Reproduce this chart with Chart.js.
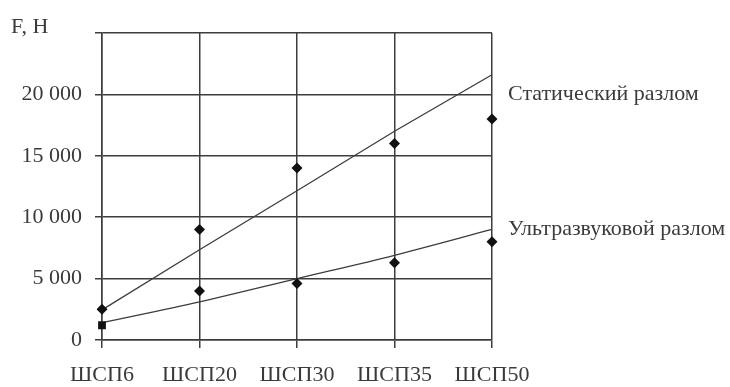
<!DOCTYPE html>
<html>
<head>
<meta charset="utf-8">
<script src="https://cdn.jsdelivr.net/npm/chart.js@4/dist/chart.umd.min.js"></script>
<style>
  html, body { margin: 0; padding: 0; background: #fff; }
  #wrap { width: 730px; height: 387px; }
</style>
</head>
<body>
<div id="wrap"><canvas id="c" width="730" height="387"></canvas></div>
<script>
// Grades of the tested material
const grades = ['ШСП6', 'ШСП20', 'ШСП30', 'ШСП35', 'ШСП50'];

// Measured breaking force, N
const staticForce = [2500, 9000, 14000, 16000, 18000];
const ultrasonicForce = [1200, 4000, 4600, 6300, 8000];

// Trend lines for both series
const staticTrend = [2450, 7350, 12150, 17000, 21600];
const ultrasonicTrend = [1400, 3100, 5000, 6900, 9000];

// Marker shapes of the ultrasonic series
const ultrasonicMarkers = ['rect', 'rectRot', 'rectRot', 'rectRot', 'rectRot'];

// Series names and where their labels sit on the value axis
const seriesNames = ['Статический разлом', 'Ультразвуковой разлом'];
const seriesLabelAt = [20000, 9000];

const yTicks = [0, 5000, 10000, 15000, 20000, 25000];
const axisTitle = 'F, H';

const FONT = '"Liberation Serif", "Times New Roman", serif';
const TEXT = '#3a3a3a';
const LINE = '#3d3d3d';

const seriesLabels = {
  id: 'seriesLabels',
  afterDatasetsDraw(chart) {
    const { ctx, chartArea, scales } = chart;
    ctx.save();
    ctx.font = '22px ' + FONT;
    ctx.fillStyle = TEXT;
    ctx.textBaseline = 'middle';
    ctx.textAlign = 'left';
    seriesNames.forEach((name, i) => {
      ctx.fillText(name, chartArea.right + 16, scales.y.getPixelForValue(seriesLabelAt[i]));
    });
    // Unit label above the value axis
    ctx.textBaseline = 'alphabetic';
    ctx.fillText(axisTitle, 11, 33);
    ctx.restore();
  }
};

new Chart(document.getElementById('c'), {
  type: 'line',
  data: {
    labels: grades,
    datasets: [
      {
        data: staticTrend,
        borderColor: LINE, borderWidth: 1.3,
        pointRadius: 0, fill: false, order: 3
      },
      {
        data: ultrasonicTrend,
        borderColor: LINE, borderWidth: 1.3,
        pointRadius: 0, fill: false, cubicInterpolationMode: 'monotone', order: 3
      },
      {
        data: staticForce,
        showLine: false,
        pointStyle: 'rectRot', pointRadius: 5.5,
        pointBackgroundColor: '#111', pointBorderColor: '#111', pointBorderWidth: 0,
        order: 1
      },
      {
        data: ultrasonicForce,
        showLine: false,
        pointStyle: ultrasonicMarkers, pointRadius: 5.5,
        pointBackgroundColor: '#111', pointBorderColor: '#111', pointBorderWidth: 0,
        order: 1
      }
    ]
  },
  options: {
    responsive: false,
    animation: false,
    events: [],
    layout: { padding: { left: 0, top: 33, right: 238, bottom: 0 } },
    plugins: {
      legend: { display: false },
      tooltip: { enabled: false },
      title: { display: false }
    },
    scales: {
      x: {
        type: 'category',
        offset: false,
        grid: { color: LINE, lineWidth: 1.5, tickLength: 8, drawTicks: true, offset: false },
        border: { color: LINE, width: 1.5 },
        ticks: {
          color: TEXT, padding: 14, maxRotation: 0, autoSkip: false,
          font: { family: FONT, size: 22 }
        },
        afterFit(scale) { scale.height = 47; }
      },
      y: {
        type: 'linear',
        min: 0, max: 25000,
        afterBuildTicks(scale) { scale.ticks = yTicks.map(v => ({ value: v })); },
        grid: { color: LINE, lineWidth: 1.5, tickLength: 7 },
        border: { color: LINE, width: 1.5 },
        ticks: {
          color: TEXT, padding: 13,
          font: { family: FONT, size: 22 },
          callback(v) {
            if (v === 25000) return '';
            return v === 0 ? '0' : String(v).replace(/\B(?=(\d{3})+(?!\d))/g, ' ');
          }
        },
        afterFit(scale) { scale.width = 102; }
      }
    }
  },
  plugins: [seriesLabels]
});
</script>
</body>
</html>
